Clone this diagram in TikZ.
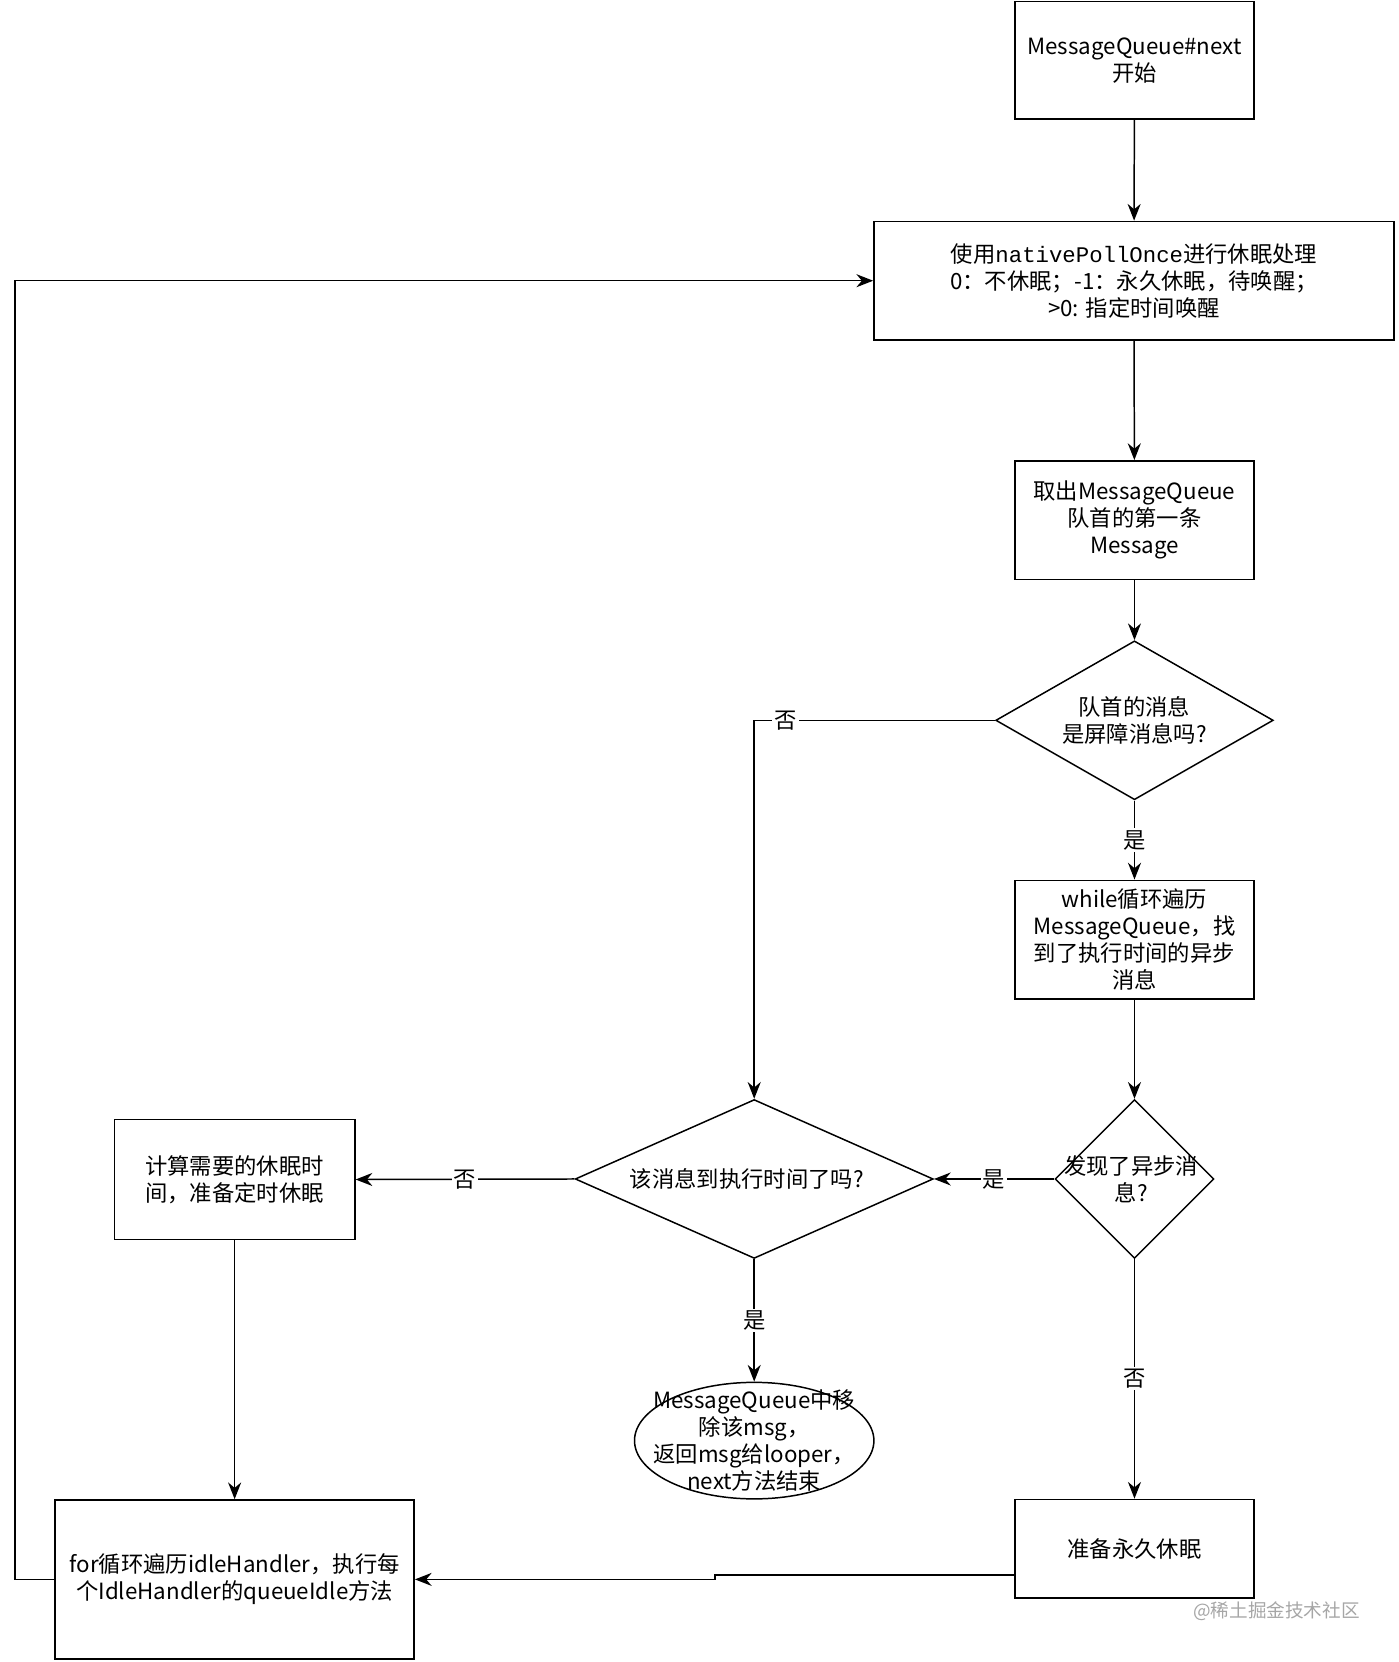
\documentclass[tikz,border=0pt]{standalone}
\usepackage{fontspec}
\setmainfont{Noto Sans CJK SC}
\newfontfamily\codefont{Liberation Mono}
\usetikzlibrary{shapes.geometric,arrows.meta}
\begin{document}
\begin{tikzpicture}[x=0.02cm,y=-0.02cm,
  font=\fontsize{12}{14.5}\selectfont,
  box/.style={draw,line width=0.8pt,inner sep=0pt,align=center},
  dia/.style={draw,diamond,line width=0.8pt,inner sep=0pt,minimum width=#1*0.02cm,minimum height=150*0.02cm,shape aspect=1},
  txt/.style={align=center,inner sep=1pt},
  lab/.style={fill=white,inner sep=1pt},
  arr/.style={-{Stealth[length=9pt,width=7pt]},line width=0.8pt}]
\useasboundingbox (0,0) rectangle (1320,1569);
\node[box,minimum width=226*0.02cm,minimum height=111*0.02cm] (start) at (1071,57) {MessageQueue\#next\\开始};
\node[box,minimum width=491*0.02cm,minimum height=112*0.02cm] (sleep) at (1070.5,265) {使用{\codefont nativePollOnce}进行休眠处理\\0：不休眠；-1：永久休眠，待唤醒；\\>0: 指定时间唤醒};
\node[box,minimum width=226*0.02cm,minimum height=112*0.02cm] (take) at (1071,491) {取出MessageQueue\\队首的第一条\\Message};
\node[dia=262] (d1) at (1071,680) {};
\node[txt] at (d1) {队首的消息\\是屏障消息吗?};
\node[box,minimum width=226*0.02cm,minimum height=112*0.02cm] (while) at (1071,887) {while循环遍历\\MessageQueue，找\\到了执行时间的异步\\消息};
\node[dia=150] (d2) at (1071,1113) {};
\node[txt] at (1068,1113) {发现了异步消\\息?};
\node[dia=338] (d3) at (712,1113) {};
\node[txt] at (705,1113) {该消息到执行时间了吗?};
\node[box,minimum width=227*0.02cm,minimum height=113*0.02cm] (calc) at (221.5,1113.5) {计算需要的休眠时\\间，准备定时休眠};
\node[draw,ellipse,line width=0.8pt,minimum width=226*0.02cm,minimum height=110*0.02cm,inner sep=0pt] (end) at (712,1360) {};
\node[txt] at (712,1360) {MessageQueue中移\\除该msg，\\返回msg给looper，\\next方法结束};
\node[box,minimum width=226*0.02cm,minimum height=93*0.02cm] (forever) at (1071,1462) {准备永久休眠};
\node[box,minimum width=339*0.02cm,minimum height=150*0.02cm] (for) at (221.5,1491) {for循环遍历idleHandler，执行每\\个IdleHandler的queueIdle方法};
\node[text=gray!70,font=\fontsize{10}{12}\selectfont] (wm) at (1205,1521) {@稀土掘金技术社区};
\draw[arr] (start) -- (sleep);
\draw[arr] (sleep) -- (take);
\draw[arr] (take) -- (d1);
\draw[arr] (d1.south) -- node[lab,pos=0.5]{是} (while);
\draw[arr] (d1.west) -- (712,680) node[lab,pos=0.87]{否} -- (d3.north);
\draw[arr] (while) -- (d2.north);
\draw[arr] (d2.west) -- node[lab]{是} (d3.east);
\draw[arr] (d3.west) -- node[lab]{否} (calc.east);
\draw[arr] (d3.south) -- node[lab]{是} (end.north);
\draw[arr] (d2.south) -- node[lab,pos=0.5]{否} (forever.north);
\draw[arr] (calc) -- (for);
\draw[arr] (forever.west |- 0,1487) -- (675,1487) -- (675,1491) -- (for.east);
\draw[arr] (for.west) -- (14,1491) -- (14,265) -- (sleep.west);
\end{tikzpicture}
\end{document}
